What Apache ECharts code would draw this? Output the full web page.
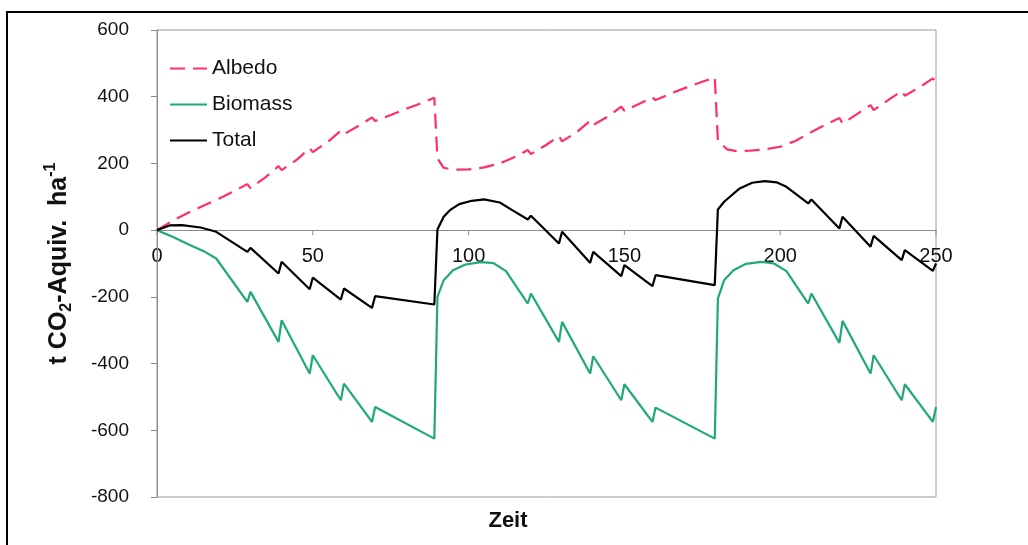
<!DOCTYPE html>
<html>
  <head>
    <meta charset="UTF-8">
    <title>Albedo / Biomass</title>
    <script src="https://cdn.jsdelivr.net/npm/echarts@6/dist/echarts.min.js"></script>
    <style>
    * {
      margin: 0;
      padding: 0;
    }
    body {
      background: #fff;
    }
    </style>
  </head>
  <body>
    <div id="main" style="width: 1028px;height: 545px"></div>

    <script>
// [Zeit, t CO2-Aquiv. ha-1]
var albedo = [
  [0, 0], [5, 28], [10, 52], [15, 74], [20, 95], [25, 118], [29, 138], [30, 126],
  [35, 160], [39, 192], [40, 180], [45, 212], [49, 246], [50, 234], [55, 266],
  [59, 298], [60, 288], [65, 314], [69, 338], [70, 327], [75, 345], [80, 364],
  [85, 381], [89, 397], [90, 215], [92, 187], [95, 181], [100, 182], [105, 188],
  [110, 200], [115, 220], [119, 240], [120, 228], [125, 256], [129, 282],
  [130, 266], [135, 296], [139, 328], [140, 315], [145, 342], [149, 370],
  [150, 358], [155, 380], [159, 398], [160, 390], [165, 410], [170, 428],
  [175, 445], [179, 458], [180, 268], [183, 242], [186, 237], [190, 238],
  [195, 242], [200, 250], [205, 268], [210, 294], [215, 318], [219, 336],
  [220, 320], [225, 350], [229, 375], [230, 360], [235, 392], [239, 417],
  [240, 403], [245, 430], [249, 455], [250, 443]
]
var biomass = [
  [0, 0], [5, -20], [10, -42], [15, -63], [19, -85], [29, -215], [30, -185],
  [39, -335], [40, -270], [49, -430], [50, -375], [59, -510], [60, -460],
  [69, -575], [70, -530], [89, -625], [90, -200], [92, -150], [95, -120],
  [99, -103], [104, -96], [108, -99], [112, -123], [119, -220], [120, -190],
  [129, -335], [130, -275], [139, -430], [140, -378], [149, -510], [150, -462],
  [159, -575], [160, -532], [179, -625], [180, -205], [182, -150], [185, -120],
  [189, -101], [194, -95], [198, -100], [202, -123], [209, -220], [210, -190],
  [219, -338], [220, -272], [229, -430], [230, -375], [239, -510], [240, -462],
  [249, -575], [250, -530]
]
var total = [
  [0, 0], [4, 14], [8, 15], [14, 8], [19, -5], [29, -65], [30, -53], [39, -130],
  [40, -95], [49, -177], [50, -142], [59, -208], [60, -175], [69, -233],
  [70, -198], [89, -223], [90, 2], [92, 40], [94, 60], [97, 78], [101, 88],
  [105, 92], [110, 83], [114, 60], [119, 32], [120, 43], [129, -40], [130, -5],
  [139, -98], [140, -65], [149, -138], [150, -105], [159, -168], [160, -135],
  [179, -165], [180, 62], [182, 85], [187, 125], [191, 142], [195, 147],
  [199, 143], [202, 130], [209, 80], [210, 92], [219, 5], [220, 40], [229, -50],
  [230, -17], [239, -90], [240, -60], [249, -122], [250, -100]
]
var seriesNames = ['Albedo', 'Biomass', 'Total']
var xTicks = [0, 50, 100, 150, 200, 250]
var yTitle = '{b|t CO}{s|2}{b|-Aquiv.  ha}{p|-1}'
var xTitle = 'Zeit'

var font = 'Liberation Sans, Arial, sans-serif'
var myChart = echarts.init(document.getElementById('main'))

var option = {
  backgroundColor: '#fff',
  animation: false,
  textStyle: { fontFamily: font },
  grid: {
    left: 157,
    right: 92,
    top: 30,
    bottom: 48,
    show: true,
    borderColor: '#9a9a9a',
    borderWidth: 1,
    backgroundColor: '#fff'
  },
  legend: {
    orient: 'vertical',
    left: 164,
    top: 53,
    itemWidth: 37,
    itemHeight: 14,
    itemGap: 15,
    itemStyle: { opacity: 0 },
    textStyle: { fontSize: 21, color: '#111', fontFamily: font },
    data: seriesNames
  },
  xAxis: {
    type: 'value',
    min: 0,
    max: 250,
    interval: 50,
    axisLine: { onZero: true, lineStyle: { color: '#8c8c8c', width: 1 } },
    axisTick: { show: false },
    axisLabel: { show: false },
    splitLine: { show: false }
  },
  yAxis: {
    type: 'value',
    min: -800,
    max: 600,
    interval: 200,
    name: yTitle,
    nameLocation: 'middle',
    nameRotate: 90,
    nameGap: 82,
    nameTextStyle: {
      rich: {
        b: { fontSize: 25, fontWeight: 'bold', color: '#111', fontFamily: font, lineHeight: 32, verticalAlign: 'middle' },
        s: { fontSize: 16, fontWeight: 'bold', color: '#111', fontFamily: font, lineHeight: 32, verticalAlign: 'bottom' },
        p: { fontSize: 16, fontWeight: 'bold', color: '#111', fontFamily: font, lineHeight: 32, verticalAlign: 'top' }
      }
    },
    axisLine: { show: true, onZero: false, lineStyle: { color: '#8c8c8c', width: 1 } },
    axisTick: { show: true, length: 6, lineStyle: { color: '#8c8c8c' } },
    axisLabel: { fontSize: 19, color: '#111', margin: 28 },
    splitLine: { show: false }
  },
  graphic: [
    {
      type: 'rect',
      shape: { x: 7, y: 12, width: 1100, height: 600 },
      style: { fill: 'none', stroke: '#000', lineWidth: 2 },
      silent: true
    },
    {
      type: 'text',
      x: 508,
      y: 521,
      style: {
        text: xTitle,
        fontSize: 22,
        fontWeight: 'bold',
        fontFamily: 'Liberation Sans Narrow, Arial Narrow, Liberation Sans, sans-serif',
        fill: '#111',
        align: 'center',
        verticalAlign: 'middle'
      }
    }
  ],
  series: [
    {
      name: seriesNames[0],
      type: 'line',
      showSymbol: false,
      symbol: 'none',
      data: albedo,
      itemStyle: { color: '#ff2e6e' },
      lineStyle: { color: '#ff2e6e', width: 2.2, type: [15, 8] }
    },
    {
      name: seriesNames[1],
      type: 'line',
      showSymbol: false,
      symbol: 'none',
      data: biomass,
      itemStyle: { color: '#1fa87c' },
      lineStyle: { color: '#1fa87c', width: 2.2 }
    },
    {
      name: seriesNames[2],
      type: 'line',
      showSymbol: false,
      symbol: 'none',
      data: total,
      itemStyle: { color: '#000' },
      lineStyle: { color: '#000', width: 2.2 }
    }
  ]
}
myChart.setOption(option)

// x-Beschriftung direkt unter der Nulllinie (wie im Original)
var extra = []
xTicks.forEach(function (v) {
  var p = myChart.convertToPixel({ xAxisIndex: 0, yAxisIndex: 0 }, [v, 0])
  extra.push({
    type: 'line',
    shape: { x1: p[0], y1: p[1], x2: p[0], y2: p[1] + 5 },
    style: { stroke: '#8c8c8c', lineWidth: 1 },
    silent: true
  })
  extra.push({
    type: 'text',
    x: p[0],
    y: p[1] + 26,
    style: {
      text: String(v),
      fontSize: 20,
      fontFamily: font,
      fill: '#111',
      align: 'center',
      verticalAlign: 'middle'
    }
  })
})
myChart.setOption({ graphic: option.graphic.concat(extra) })
    </script>
  </body>
</html>
